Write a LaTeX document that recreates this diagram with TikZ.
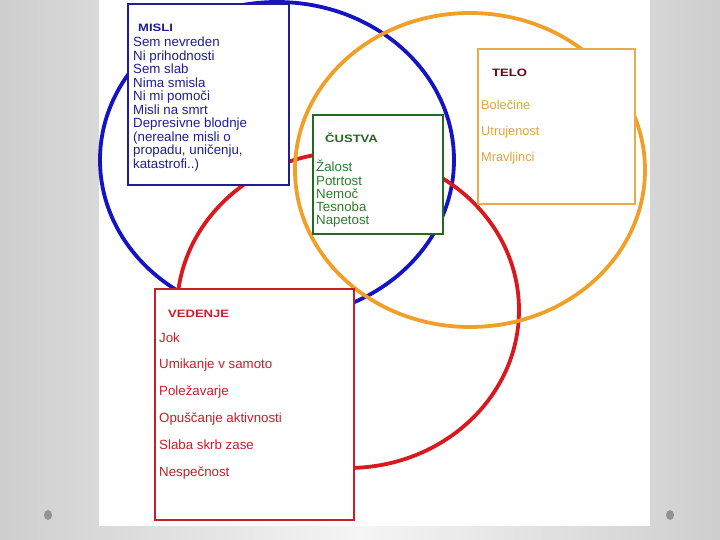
\documentclass[tikz,border=0pt]{standalone}
\usepackage{fontspec}
\setmainfont{Liberation Sans}
\newfontfamily\widefont[FakeStretch=1.22]{Liberation Sans}
\usetikzlibrary{positioning}
\definecolor{mb}{RGB}{20,20,195}
\definecolor{mn}{RGB}{30,30,150}
\definecolor{or}{RGB}{240,160,40}
\definecolor{tb}{RGB}{236,170,70}
\definecolor{tt}{RGB}{110,0,15}
\definecolor{ti}{RGB}{222,165,60}
\definecolor{gr}{RGB}{35,105,35}
\definecolor{gt}{RGB}{45,125,45}
\definecolor{rd}{RGB}{218,25,30}
\definecolor{rb}{RGB}{200,30,40}

\begin{document}
\begin{tikzpicture}[x=1pt,y=-1pt,
    box/.style={rectangle,draw,fill=white,line width=1.8pt,inner sep=0pt},
    head/.style={anchor=base west,inner sep=0pt,font=\widefont\bfseries\fontsize{10.7}{12}\selectfont},
    lst/.style={anchor=base west,inner sep=0pt,align=left},
    ring/.style={line width=3.8pt},
]
\useasboundingbox (0,0) rectangle (720,540);
\shade[left color=gray!38,right color=gray!38,middle color=gray!8] (0,0) rectangle (720,540);
\fill[white] (99,0) rectangle (650,526);
\fill[gray!85] (48,515) ellipse [x radius=4pt,y radius=5pt];
\fill[gray!85] (670,515) ellipse [x radius=4pt,y radius=5pt];

\draw[ring,mb] (277,160) ellipse [x radius=177pt,y radius=158pt];
\draw[ring,rd] (348,310) ellipse [x radius=171pt,y radius=158pt];
\draw[ring,or] (470,170) ellipse [x radius=175pt,y radius=157pt];

\node[box,draw=mn,minimum width=161pt,minimum height=181pt] (misli) at (208.5,94.5) {};
\node[box,draw=tb,minimum width=157pt,minimum height=155pt] (telo) at (556.5,126.5) {};
\node[box,draw=gr,minimum width=130pt,minimum height=119pt] (custva) at (378,174.5) {};
\node[box,draw=rb,minimum width=199pt,minimum height=231pt] (vedenje) at (254.5,404.5) {};

% lists sit on the baseline of their last line
\node[head,text=mn] (misliH) at (138,31.7) {MISLI};
\node[lst,text=mn,font=\fontsize{13.3}{13.5}\selectfont] (misliL) at (133,168.2)
    {Sem nevreden\\Ni prihodnosti\\Sem slab\\Nima smisla\\Ni mi pomoči\\Misli na smrt\\Depresivne blodnje\\(nerealne misli o\\propadu, uničenju,\\katastrofi..)};

\node[head,text=tt] (teloH) at (492,77) {TELO};
\node[lst,text=ti,font=\fontsize{12.8}{26}\selectfont] (teloL) at (481,162)
    {Bolečine\\Utrujenost\\Mravljinci};

\node[head,text=gr] (custvaH) at (325,143) {ČUSTVA};
\node[lst,text=gt,font=\fontsize{13.3}{13.2}\selectfont] (custvaL) at (316,224.8)
    {Žalost\\Potrtost\\Nemoč\\Tesnoba\\Napetost};

\node[head,text=rb] (vedenjeH) at (168,317) {VEDENJE};
\node[lst,text=rb,font=\fontsize{13.3}{26.8}\selectfont] (vedenjeL) at (159,476)
    {Jok\\Umikanje v samoto\\Poležavarje\\Opuščanje aktivnosti\\Slaba skrb zase\\Nespečnost};
\end{tikzpicture}
\end{document}
